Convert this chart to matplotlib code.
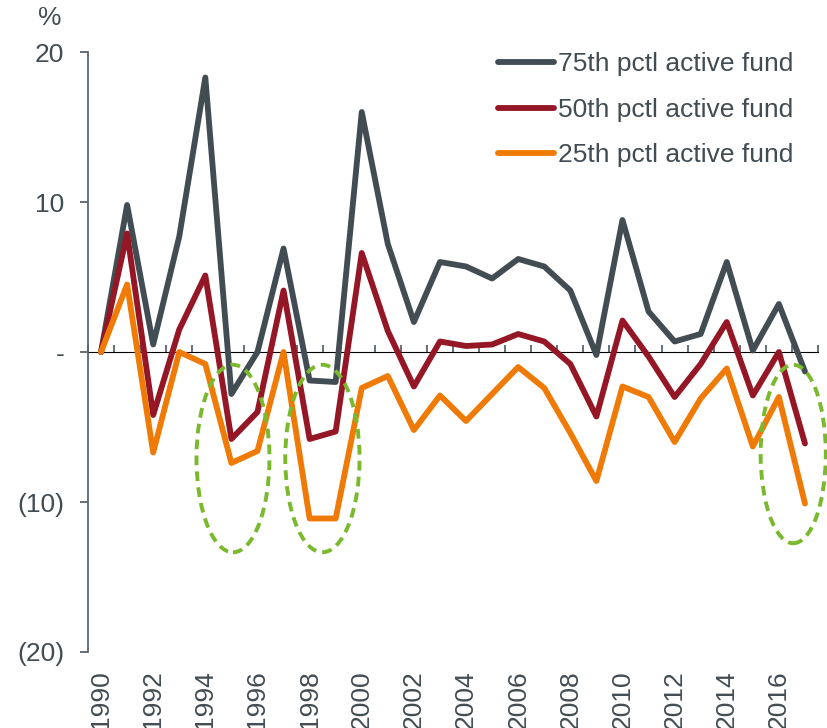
import matplotlib.pyplot as plt
import numpy as np
from matplotlib.patches import Ellipse

plt.rcParams["font.family"] = ["Liberation Sans", "DejaVu Sans"]

OUT = "out.png"

YEARS = list(range(1990, 2018))
P75 = [0.0, 9.8, 0.5, 7.7, 18.3, -2.8, 0.0, 6.9, -1.9, -2.0, 16.0, 7.2, 2.0, 6.0,
       5.7, 4.9, 6.2, 5.7, 4.1, -0.2, 8.8, 2.7, 0.7, 1.2, 6.0, 0.1, 3.2, -1.3]
P50 = [0.0, 7.9, -4.2, 1.5, 5.1, -5.8, -4.0, 4.1, -5.8, -5.3, 6.6, 1.4, -2.3, 0.7,
       0.4, 0.5, 1.2, 0.7, -0.8, -4.3, 2.1, -0.3, -3.0, -0.8, 2.0, -2.9, 0.0, -6.1]
P25 = [0.0, 4.5, -6.7, 0.0, -0.8, -7.4, -6.6, 0.0, -11.1, -11.1, -2.4, -1.6, -5.2, -2.9,
       -4.6, -2.8, -1.0, -2.4, -5.4, -8.6, -2.3, -3.0, -6.0, -3.1, -1.1, -6.3, -3.0, -10.1]
SERIES = ["75th pctl active fund", "50th pctl active fund", "25th pctl active fund"]
COLORS = ["#414C53", "#951625", "#EF7B06"]
YTICKS = [20, 10, 0, -10, -20]
YLABELS = ["20", "10", "-", "(10)", "(20)"]
# highlighted periods: (center index, center value, width in years, height in %)
HIGHLIGHTS = [(5.06, -7.1, 2.8, 12.5), (8.49, -7.1, 2.85, 12.5), (26.55, -6.8, 2.5, 11.9)]

TEXT = "#414C53"
AXIS = "#5B656C"
FS = 19


def main() -> None:
    fig = plt.figure(figsize=(8.28, 7.28), dpi=100)
    ax = fig.add_axes([88 / 828, 1 - 652 / 728, 730 / 828, 600 / 728])
    x = np.arange(len(YEARS))
    for vals, label, color in zip([P75, P50, P25], SERIES, COLORS):
        ax.plot(x, vals, color=color, lw=4.2, label=label, solid_capstyle="round")

    for cx, cy, w, h in HIGHLIGHTS:
        ax.add_patch(Ellipse((cx, cy), w, h, fill=False, ec="#7AB92E", lw=2.8,
                             ls=(0, (2.5, 1.6)), clip_on=False, zorder=5))

    ax.set_xlim(-0.5, len(YEARS) - 0.5)
    ax.set_ylim(-20, 20)
    for s in ["top", "right", "bottom"]:
        ax.spines[s].set_visible(False)
    ax.spines["left"].set_color(AXIS)
    ax.spines["left"].set_linewidth(1.3)

    ax.set_yticks(YTICKS, YLABELS)
    ax.tick_params(axis="y", direction="out", length=6, width=1.3, color=AXIS,
                   labelcolor=TEXT, labelsize=FS, pad=11)

    ax.set_xticks(x[::2], [str(y) for y in YEARS[::2]], rotation=90)
    ax.tick_params(axis="x", length=0, labelcolor=TEXT, labelsize=FS, pad=13)

    zero = ax.secondary_xaxis(0.5)
    zero.set_xticks(np.arange(len(YEARS) + 1) - 0.5, [])
    zero.tick_params(direction="out", length=5, width=1.3, color=AXIS)
    zero.spines["bottom"].set_color(AXIS)
    zero.spines["bottom"].set_linewidth(1.3)

    fig.text(50 / 828, 1 - 18 / 728, "%", ha="center", va="center", fontsize=FS, color=TEXT)

    leg = ax.legend(loc="upper left", bbox_to_anchor=(485 / 828, 1 - 39 / 728),
                    bbox_transform=fig.transFigure, frameon=False, fontsize=FS,
                    handlelength=2.1, handletextpad=0.15, labelspacing=0.82, borderpad=0)
    for t in leg.get_texts():
        t.set_color(TEXT)

    fig.savefig(OUT, dpi=100)


if __name__ == "__main__":
    main()
